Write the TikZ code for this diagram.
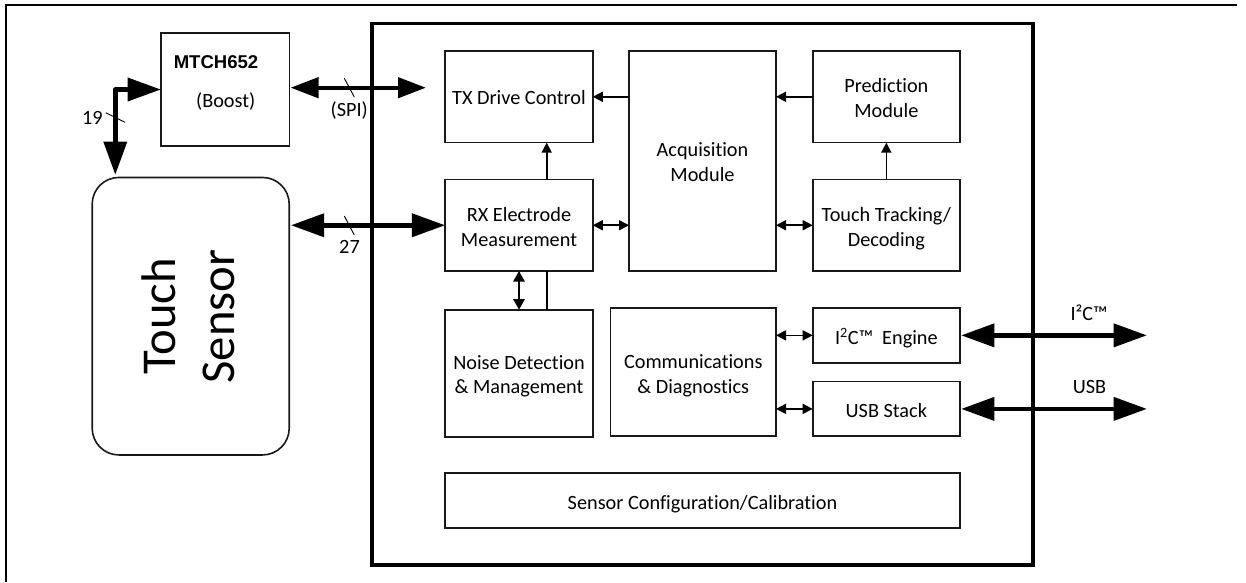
\documentclass[tikz,border=0pt]{standalone}
\usepackage{fontspec}
\setmainfont{Carlito}[Ligatures=NoCommon]
\newfontfamily\arialfont{Liberation Sans}
\usetikzlibrary{arrows.meta,calc}
\newdimen\pxu \pxu=0.75pt
\newcommand\bxt[2]{\smash{\raisebox{\dimexpr-#1\pxu-3.8pt\relax}{\begin{tabular}{@{}c@{}}#2\end{tabular}}}}
\tikzset{
  x=0.75pt,y=-0.75pt,
  bx/.style n args={2}{draw=black!90,line width=1.2pt,rectangle,inner sep=0pt,outer sep=0pt,align=center,
    font=\fontsize{15.2pt}{18.6pt}\selectfont,minimum width=#1*\pxu,minimum height=#2*\pxu},
  lbl/.style={inner sep=0pt,outer sep=0pt,align=center,font=\fontsize{15.2pt}{18.6pt}\selectfont},
  thinline/.style={line width=1.2pt,draw=black},
  onearrow/.style={thinline,-{Triangle[length=7.5pt,width=7.5pt]}},
  twoarrow/.style={thinline,{Triangle[length=7.5pt,width=7.5pt]}-{Triangle[length=7.5pt,width=7.5pt]}},
  medarrow/.style={line width=1.7pt,draw=black,{Triangle[length=8pt,width=8.5pt]}-{Triangle[length=8pt,width=8.5pt]}},
  spibus/.style={line width=3.3pt,draw=black,{Triangle[length=21pt,width=15pt]}-{Triangle[length=21pt,width=15pt]}},
  bigbus/.style={line width=3.6pt,draw=black,{Triangle[length=25pt,width=17pt]}-{Triangle[length=25pt,width=17pt]}},
  tick/.style={line width=0.7pt,draw=black},
}
\begin{document}
\begin{tikzpicture}
\fill[white] (0,0) rectangle (1246,582);
\useasboundingbox (0,0) rectangle (1246,582);
% outer frame
\draw[line width=2pt,line cap=butt,line join=miter] (6,582) -- (6,5) -- (1237,5);
% chip outline
\node[draw=black,line width=2.4pt,rectangle,inner sep=0pt,outer sep=0pt,minimum width=661*\pxu,minimum height=541.5*\pxu] (chip) at (702.5,294.2) {};
% left blocks
\node[bx={128.5}{113}] (mtch) at (225.2,89.5) {};
\node[draw=black!90,line width=1.2pt,rectangle,rounded corners=20pt,inner sep=0pt,outer sep=0pt,minimum width=197*\pxu,minimum height=277.5*\pxu] (ts) at (190.7,316.2) {};
\node[lbl,font=\arialfont\bfseries\fontsize{13.9pt}{15pt}\selectfont] (mtchname) at (216,62.5) {MTCH652};
\node[lbl] (mtchsub) at (225.7,101.7) {(Boost)};
\node[inner sep=0pt,outer sep=0pt,align=center,rotate=90,font=\fontsize{36.5pt}{44pt}\selectfont] (tslabel) at (188.5,316.5) {Touch\\Sensor};
% inner blocks
\node[bx={147.5}{91.7}] (tx) at (519,96.8) {\bxt{2}{TX Drive Control}};
\node[bx={147.5}{91.5}] (rx) at (519,225.25) {\bxt{3.5}{RX Electrode\\Measurement}};
\node[bx={147.5}{127}] (noise) at (519,373.2) {\bxt{3}{Noise Detection\\\& Management}};
\node[bx={147}{220}] (acq) at (702.5,161) {\bxt{3}{Acquisition\\Module}};
\node[bx={147.3}{91.7}] (pred) at (886.35,96.8) {\bxt{3}{Prediction\\Module}};
\node[bx={147.3}{91.5}] (touch) at (886.35,225.25) {\bxt{3.5}{Touch Tracking/\\Decoding}};
\node[bx={165.5}{128}] (comm) at (693.25,372) {\bxt{4}{Communications\\\& Diagnostics}};
\node[bx={147.3}{54.7}] (i2c) at (886.35,335.35) {\bxt{3.8}{I\textsuperscript{2}C™\ \ Engine}};
\node[bx={147.3}{54.5}] (usb) at (886.35,408.9) {\bxt{3}{USB Stack}};
\node[bx={515}{55}] (cfg) at (702.5,500.5) {\bxt{3.5}{Sensor Configuration/Calibration}};
% free ends
\coordinate (corner) at (115.3,89.5);
\coordinate (spiend) at (426,87.7);
\coordinate (i2cout) at (1147,335.35);
\coordinate (usbout) at (1147,408.9);
\coordinate (tap) at (546.7,200);
% bus labels
\node[lbl] (n19) at (92.3,117.7) {19};
\node[lbl] (nspi) at (349.3,110.7) {(SPI)};
\node[lbl] (n27) at (349.5,246.7) {27};
\node[lbl] (ni2c) at (1089,313) {I²C™};
\node[lbl] (nusb) at (1089.5,386.7) {USB};
% thin connectors
\draw[onearrow] (acq.west |- tx.east) -- (tx.east);
\draw[onearrow] (pred.west) -- (pred.west -| acq.east);
\draw[onearrow] (touch.north) -- (pred.south);
\draw[onearrow] (tap |- rx.north) -- (tap |- tx.south);
\draw[thinline] (tap |- noise.north) -- (tap |- rx.south);
\draw[twoarrow] (rx.east) -- (rx.east -| acq.west);
\draw[twoarrow] (touch.west) -- (touch.west -| acq.east);
\draw[twoarrow] (i2c.west) -- (i2c.west -| comm.east);
\draw[twoarrow] (usb.west) -- (usb.west -| comm.east);
\draw[medarrow] (rx.south) -- (noise.north);
% buses
\draw[spibus,shorten <=0.8pt] (mtch.east |- spiend) -- (spiend);
\draw[bigbus,shorten <=1.2pt] (ts.east |- rx.west) -- (rx.west);
\draw[bigbus,shorten <=0.8pt] (i2c.east) -- (i2cout);
\draw[bigbus,shorten <=0.8pt] (usb.east) -- (usbout);
\draw[bigbus,line join=round,shorten >=1.9pt] (mtch.west) -- (corner) -- (corner |- ts.north);
% ticks
\draw[tick] (344.3,78.3) -- (354.3,97);
\draw[tick] (344.3,216) -- (354.3,235);
\draw[tick] (105.7,112.7) -- (125,122.3);
\end{tikzpicture}
\end{document}
